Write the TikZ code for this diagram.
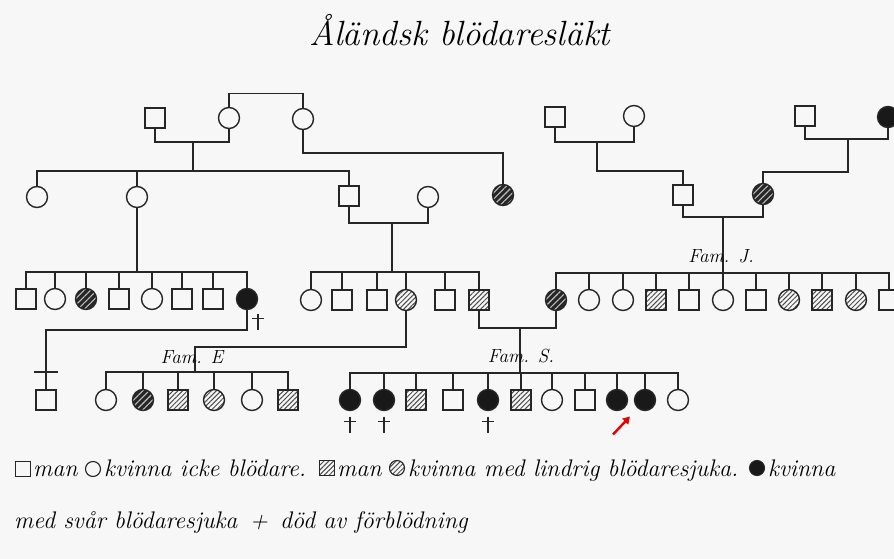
\documentclass[tikz,border=0pt]{standalone}
\usetikzlibrary{patterns.meta,arrows.meta}
\begin{document}
\begin{tikzpicture}[x=1pt,y=-1pt,
  ln/.style={line width=1.5pt, draw=black!85},
  pbase/.style={draw=black!85, line width=1.4pt, inner sep=0pt, outer sep=0pt},
  pm/.style={pbase, rectangle, minimum size=20pt},
  pf/.style={pbase, circle, minimum size=21pt},
  pmh/.style={pm, pattern={Lines[angle=45,distance=3.4pt,line width=1pt]}, pattern color=black!70},
  pfh/.style={pf, pattern={Lines[angle=45,distance=3.4pt,line width=1pt]}, pattern color=black!70},
  pfd/.style={pf, preaction={fill=black!85}, pattern={Lines[angle=45,distance=4.5pt,line width=1.1pt]}, pattern color=white!75!black},
  pfs/.style={pf, fill=black!90},
  lsz/.style={minimum size=15pt, line width=1.1pt},
  famlab/.style={font=\itshape\fontsize{19}{19}\selectfont, inner sep=1pt},
  leg/.style={font=\itshape\fontsize{24}{24}\selectfont, inner sep=0pt, anchor=base west},
  dagger/.pic={\draw[line width=1.4pt, draw=black!85] (0,-8) -- (0,8); \draw[line width=1.4pt, draw=black!85] (-6,-3) -- (6,-3);},
]
\path[use as bounding box] (0,0) rectangle (894,559);
\clip (0,0) rectangle (894,559);
\fill[white!97!black] (0,0) rectangle (894,559);

% title
\node[font=\itshape\fontsize{35}{35}\selectfont] (title) at (460,30) {Åländsk blödaresläkt};

% generation I
\node[pm] (g1a) at (155,118) {};
\node[pf] (g1b) at (229,118) {};
\node[pf] (g1c) at (303,119) {};
\node[pm] (g1d) at (555,117) {};
\node[pf] (g1e) at (634,116) {};
\node[pm] (g1f) at (805,116) {};
\node[pfs] (g1g) at (888,117) {};

% generation II
\node[pf] (g2a) at (37,197) {};
\node[pf] (g2b) at (137,197) {};
\node[pm] (g2c) at (349,196) {};
\node[pf] (g2d) at (428,197) {};
\node[pfd] (g2e) at (503,195) {};
\node[pm] (g2f) at (683,195) {};
\node[pfd] (g2g) at (763,194) {};

% generation III left
\node[pm] (a1) at (26,299) {};
\node[pf] (a2) at (55,299) {};
\node[pfd] (a3) at (86,299) {};
\node[pm] (a4) at (119,299) {};
\node[pf] (a5) at (152,299) {};
\node[pm] (a6) at (182,299) {};
\node[pm] (a7) at (213,299) {};
\node[pfs] (a8) at (247,299) {};

% generation III middle
\node[pf] (b1) at (311,300) {};
\node[pm] (b2) at (342,300) {};
\node[pm] (b3) at (377,300) {};
\node[pfh] (b4) at (406,300) {};
\node[pm] (b5) at (445,300) {};
\node[pmh] (b6) at (479,300) {};

% Fam J
\node[pfd] (j1) at (556,300) {};
\node[pf] (j2) at (589,300) {};
\node[pf] (j3) at (623,300) {};
\node[pmh] (j4) at (656,300) {};
\node[pm] (j5) at (689,300) {};
\node[pf] (j6) at (723,300) {};
\node[pm] (j7) at (756,300) {};
\node[pfh] (j8) at (789,300) {};
\node[pmh] (j9) at (822,300) {};
\node[pfh] (j10) at (856,300) {};
\node[pm] (j11) at (889,300) {};

% generation IV
\node[pm] (e0) at (46,400) {};
\node[pf] (e1) at (106,400) {};
\node[pfd] (e2) at (143,400) {};
\node[pmh] (e3) at (178,400) {};
\node[pfh] (e4) at (214,400) {};
\node[pf] (e5) at (252,400) {};
\node[pmh] (e6) at (288,400) {};

\node[pfs] (s1) at (350,400) {};
\node[pfs] (s2) at (384,400) {};
\node[pmh] (s3) at (416,400) {};
\node[pm] (s4) at (453,400) {};
\node[pfs] (s5) at (488,400) {};
\node[pmh] (s6) at (521,400) {};
\node[pf] (s7) at (552,400) {};
\node[pm] (s8) at (585,400) {};
\node[pfs] (s9) at (617,400) {};
\node[pfs] (s10) at (645,400) {};
\node[pf] (s11) at (678,400) {};

% connectors generation I -> II
\draw[ln] (g1b.north) -- ++(0,-14) -| (g1c.north);
\draw[ln] (g1a.south) -- ++(0,14) -| (g1b.south);
\coordinate (k1) at (193,142);
\coordinate (t1) at (193,171);
\draw[ln] (k1) -- (t1);
\draw[ln] (g2a.north) |- (g2c.north |- t1) -- (g2c.north);
\draw[ln] (g2b.north) -- (g2b.north |- t1);
\draw[ln] (g1c.south) -- ++(0,23.5) -| (g2e.north);

\draw[ln] (g1d.south) -- ++(0,15) -| (g1e.south);
\coordinate (k2) at (597,142);
\draw[ln] (k2) -- ++(0,29) -| (g2f.north);
\draw[ln] (g1f.south) -- ++(0,13) -| (g1g.south);
\coordinate (k3) at (848,139);
\draw[ln] (k3) -- ++(0,33) -| (g2g.north);

% Fam J
\draw[ln] (g2f.south) -- ++(0,12) -| (g2g.south);
\coordinate (k4) at (723,217);
\coordinate (tJ) at (723,273);
\draw[ln] (k4) -- (tJ);
\draw[ln] (j1.north) |- (j11.north |- tJ) -- (j11.north);
\foreach \n in {j2,j3,j4,j5,j6,j7,j8,j9,j10} \draw[ln] (\n.north) -- (\n.north |- tJ);
\node[famlab] (labJ) at (721,256) {Fam. J.};

% left family
\coordinate (tA) at (137,272);
\draw[ln] (g2b.south) -- (tA);
\draw[ln] (a1.north) |- (a8.north |- tA) -- (a8.north);
\foreach \n in {a2,a3,a4,a5,a6,a7} \draw[ln] (\n.north) -- (\n.north |- tA);
\pic at ([xshift=11pt,yshift=-12pt]a8.south) {dagger};
\draw[ln] (a8.south) -- ++(0,20.5) -| (e0.north);
\draw[ln] (e0.north) ++(-12,-18) -- ++(24,0);

% middle family
\draw[ln] (g2c.south) -- ++(0,17) -| (g2d.south);
\coordinate (k5) at (392,223);
\coordinate (tB) at (392,272);
\draw[ln] (k5) -- (tB);
\draw[ln] (b1.north) |- (b6.north |- tB) -- (b6.north);
\foreach \n in {b2,b3,b4,b5} \draw[ln] (\n.north) -- (\n.north |- tB);

% Fam E
\coordinate (tE) at (195,372);
\draw[ln] (b4.south) -- ++(0,36.5) -| (tE);
\draw[ln] (e1.north) |- (e6.north |- tE) -- (e6.north);
\foreach \n in {e2,e3,e4,e5} \draw[ln] (\n.north) -- (\n.north |- tE);
\node[famlab] (labE) at (192,357) {Fam. E};

% Fam S
\draw[ln] (b6.south) -- ++(0,18) -| (j1.south);
\coordinate (k6) at (520,328);
\coordinate (tS) at (520,373);
\draw[ln] (k6) -- (tS);
\draw[ln] (s1.north) |- (s11.north |- tS) -- (s11.north);
\foreach \n in {s2,s3,s4,s5,s6,s7,s8,s9,s10} \draw[ln] (\n.north) -- (\n.north |- tS);
\node[famlab] (labS) at (521,356) {Fam. S.};
\foreach \n in {s1,s2,s5} \pic at ([yshift=-14pt]\n.south) {dagger};

% red arrow
\draw[red!90!black, line width=2.4pt, -{Triangle[length=7pt,width=8pt]}] ([xshift=-4pt,yshift=-24pt]s9.south) -- ++(17,-18);

% legend
\node[pm, lsz] (L1) at (23,469) {};
\node[leg] (T1) at (33,476) {man};
\node[pf, lsz] (L2) at (93,469) {};
\node[leg] (T2) at (104,476) {kvinna icke blödare.};
\node[pmh, lsz] (L3) at (327,468) {};
\node[leg] (T3) at (337,476) {man};
\node[pfh, lsz] (L4) at (397,468) {};
\node[leg] (T4) at (408,476) {kvinna med lindrig blödaresjuka.};
\node[pfs, lsz] (L5) at (757,468) {};
\node[leg] (T5) at (768,476) {kvinna};
\node[leg] (T6) at (14,528) {med svår blödaresjuka \,+\, död av förblödning};
\end{tikzpicture}
\end{document}
